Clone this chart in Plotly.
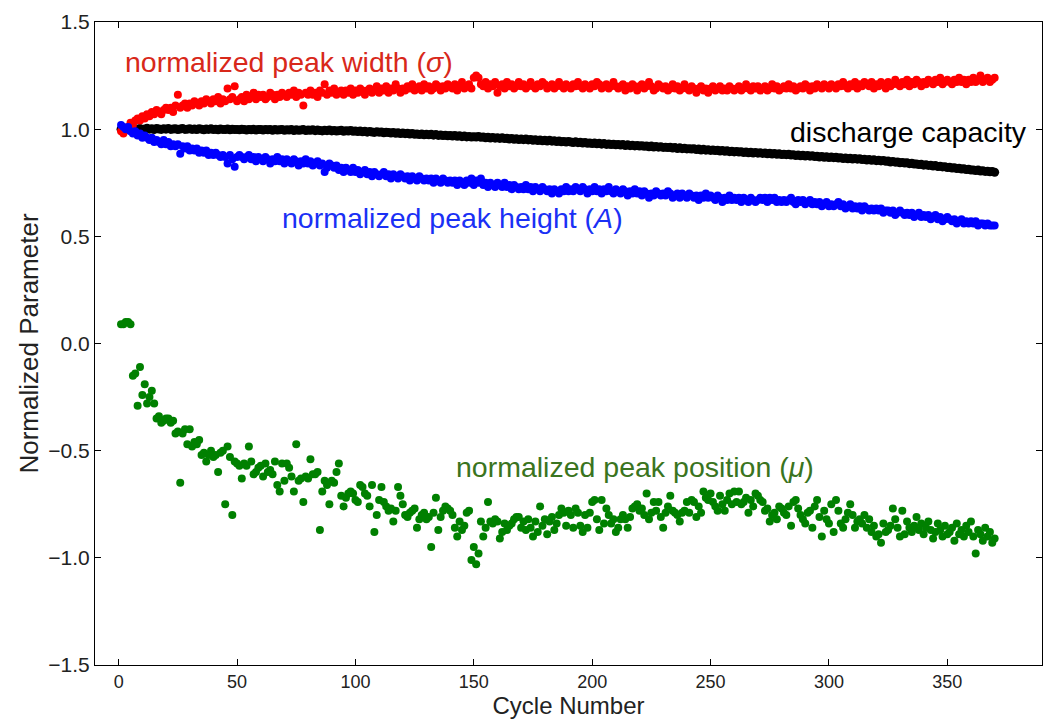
import plotly.graph_objects as go

cycles = list(range(1, 371))

peak_width = [
    0.99, 0.98, 1.00, 1.01, 1.03, 1.02, 1.04, 1.05, 1.04, 1.06,
    1.05, 1.07, 1.06, 1.08, 1.07, 1.09, 1.08, 1.07, 1.09, 1.10,
    1.09, 1.10, 1.08, 1.11, 1.16, 1.10, 1.11, 1.12, 1.10, 1.12,
    1.11, 1.13, 1.12, 1.11, 1.13, 1.12, 1.14, 1.13, 1.12, 1.14,
    1.13, 1.15, 1.12, 1.14, 1.13, 1.19, 1.14, 1.15, 1.20, 1.13,
    1.14, 1.15, 1.13, 1.16, 1.14, 1.15, 1.17, 1.14, 1.16, 1.15,
    1.16, 1.14, 1.15, 1.17, 1.16, 1.14, 1.16, 1.15, 1.17, 1.16,
    1.15, 1.17, 1.16, 1.18, 1.15, 1.17, 1.16, 1.11, 1.17, 1.16,
    1.18, 1.16, 1.17, 1.15, 1.18, 1.17, 1.21, 1.16, 1.18, 1.17,
    1.19, 1.16, 1.17, 1.18, 1.16, 1.18, 1.17, 1.19, 1.16, 1.18,
    1.17, 1.19, 1.18, 1.16, 1.18, 1.19, 1.17, 1.18, 1.20, 1.17,
    1.19, 1.18, 1.20, 1.17, 1.19, 1.18, 1.21, 1.19, 1.17, 1.19,
    1.18, 1.20, 1.19, 1.21, 1.18, 1.19, 1.20, 1.18, 1.21, 1.19,
    1.20, 1.18, 1.19, 1.21, 1.20, 1.18, 1.20, 1.19, 1.21, 1.20,
    1.19, 1.21, 1.18, 1.20, 1.22, 1.19, 1.20, 1.21, 1.19, 1.24,
    1.25, 1.24, 1.21, 1.20, 1.22, 1.19, 1.21, 1.20, 1.22, 1.17,
    1.20, 1.21, 1.19, 1.22, 1.20, 1.21, 1.19, 1.20, 1.22, 1.20,
    1.21, 1.19, 1.20, 1.22, 1.20, 1.19, 1.21, 1.20, 1.22, 1.21,
    1.19, 1.20, 1.21, 1.19, 1.20, 1.22, 1.20, 1.19, 1.21, 1.20,
    1.19, 1.21, 1.20, 1.22, 1.20, 1.19, 1.21, 1.20, 1.19, 1.21,
    1.20, 1.22, 1.21, 1.19, 1.20, 1.21, 1.19, 1.20, 1.22, 1.20,
    1.19, 1.20, 1.21, 1.18, 1.20, 1.19, 1.21, 1.20, 1.18, 1.20,
    1.21, 1.19, 1.20, 1.22, 1.20, 1.18, 1.19, 1.21, 1.20, 1.19,
    1.20, 1.18, 1.19, 1.21, 1.19, 1.20, 1.18, 1.19, 1.21, 1.19,
    1.18, 1.20, 1.19, 1.17, 1.19, 1.20, 1.18, 1.19, 1.17, 1.19,
    1.20, 1.18, 1.19, 1.20, 1.18, 1.19, 1.18, 1.20, 1.19, 1.18,
    1.19, 1.20, 1.18, 1.19, 1.21, 1.19, 1.18, 1.20, 1.19, 1.20,
    1.18, 1.19, 1.20, 1.18, 1.19, 1.21, 1.19, 1.20, 1.18, 1.19,
    1.20, 1.19, 1.21, 1.19, 1.20, 1.18, 1.19, 1.20, 1.19, 1.21,
    1.20, 1.18, 1.20, 1.19, 1.21, 1.20, 1.19, 1.21, 1.20, 1.19,
    1.21, 1.20, 1.19, 1.21, 1.20, 1.22, 1.20, 1.19, 1.21, 1.20,
    1.22, 1.19, 1.21, 1.20, 1.22, 1.21, 1.20, 1.22, 1.19, 1.21,
    1.20, 1.22, 1.21, 1.19, 1.22, 1.20, 1.21, 1.23, 1.21, 1.20,
    1.22, 1.21, 1.23, 1.20, 1.22, 1.21, 1.23, 1.22, 1.20, 1.22,
    1.21, 1.23, 1.22, 1.21, 1.23, 1.22, 1.24, 1.21, 1.22, 1.23,
    1.22, 1.21, 1.23, 1.22, 1.24, 1.22, 1.23, 1.21, 1.23, 1.22,
    1.24, 1.22, 1.23, 1.25, 1.22, 1.23, 1.24, 1.22, 1.23, 1.24,
]

peak_height = [
    1.02, 1.01, 1.00, 1.01, 0.99, 0.98, 0.99, 0.97, 0.98, 0.96,
    0.97, 0.96, 0.95, 0.96, 0.94, 0.95, 0.94, 0.93, 0.95, 0.93,
    0.94, 0.92, 0.93, 0.92, 0.93, 0.885, 0.92, 0.91, 0.92, 0.90,
    0.91, 0.90, 0.91, 0.89, 0.90, 0.89, 0.90, 0.88, 0.89, 0.88,
    0.89, 0.88, 0.87, 0.88, 0.87, 0.84, 0.88, 0.86, 0.825, 0.87,
    0.88, 0.87, 0.86, 0.87, 0.88, 0.86, 0.87, 0.85, 0.87, 0.86,
    0.85, 0.87, 0.86, 0.84, 0.86, 0.85, 0.87, 0.85, 0.86, 0.84,
    0.86, 0.85, 0.84, 0.86, 0.85, 0.83, 0.85, 0.84, 0.86, 0.84,
    0.85, 0.83, 0.84, 0.85, 0.83, 0.84, 0.80, 0.82, 0.84, 0.83,
    0.82, 0.83, 0.81, 0.82, 0.80, 0.82, 0.81, 0.80, 0.82, 0.80,
    0.81, 0.79, 0.80, 0.81, 0.79, 0.80, 0.78, 0.80, 0.79, 0.78,
    0.79, 0.80, 0.78, 0.79, 0.77, 0.79, 0.78, 0.77, 0.79, 0.78,
    0.77, 0.78, 0.76, 0.78, 0.77, 0.76, 0.78, 0.77, 0.76, 0.77,
    0.76, 0.77, 0.75, 0.77, 0.76, 0.75, 0.77, 0.76, 0.75, 0.76,
    0.75, 0.76, 0.74, 0.76, 0.75, 0.74, 0.76, 0.75, 0.77, 0.74,
    0.76, 0.75, 0.77, 0.74, 0.75, 0.73, 0.75, 0.74, 0.73, 0.75,
    0.74, 0.73, 0.75, 0.73, 0.74, 0.72, 0.74, 0.73, 0.72, 0.73,
    0.72, 0.74, 0.72, 0.73, 0.71, 0.73, 0.72, 0.71, 0.73, 0.72,
    0.71, 0.72, 0.70, 0.72, 0.71, 0.70, 0.72, 0.71, 0.73, 0.71,
    0.72, 0.71, 0.73, 0.72, 0.71, 0.73, 0.72, 0.70, 0.72, 0.71,
    0.73, 0.71, 0.72, 0.70, 0.72, 0.71, 0.73, 0.71, 0.70, 0.72,
    0.71, 0.70, 0.72, 0.71, 0.69, 0.71, 0.70, 0.72, 0.70, 0.71,
    0.69, 0.71, 0.70, 0.68, 0.70, 0.69, 0.71, 0.70, 0.69, 0.70,
    0.69, 0.71, 0.70, 0.68, 0.69, 0.70, 0.68, 0.70, 0.69, 0.68,
    0.70, 0.69, 0.68, 0.69, 0.67, 0.69, 0.68, 0.70, 0.68, 0.69,
    0.68, 0.67, 0.69, 0.68, 0.66, 0.68, 0.67, 0.69, 0.67, 0.68,
    0.67, 0.68, 0.66, 0.68, 0.67, 0.66, 0.68, 0.67, 0.66, 0.67,
    0.68, 0.67, 0.68, 0.66, 0.68, 0.67, 0.68, 0.66, 0.67, 0.66,
    0.67, 0.66, 0.67, 0.68, 0.66, 0.65, 0.67, 0.66, 0.67, 0.65,
    0.66, 0.67, 0.65, 0.66, 0.65, 0.66, 0.64, 0.65, 0.66, 0.64,
    0.65, 0.64, 0.65, 0.66, 0.64, 0.65, 0.63, 0.64, 0.65, 0.63,
    0.64, 0.63, 0.64, 0.62, 0.64, 0.63, 0.62, 0.63, 0.62, 0.63,
    0.62, 0.63, 0.61, 0.62, 0.62, 0.61, 0.62, 0.60, 0.61, 0.62,
    0.61, 0.60, 0.61, 0.60, 0.61, 0.59, 0.60, 0.61, 0.59, 0.60,
    0.59, 0.60, 0.58, 0.59, 0.60, 0.58, 0.59, 0.57, 0.58, 0.59,
    0.58, 0.57, 0.58, 0.56, 0.57, 0.58, 0.56, 0.57, 0.56, 0.57,
    0.56, 0.57, 0.55, 0.56, 0.56, 0.55, 0.56, 0.55, 0.55, 0.55,
]

discharge_capacity = [
    1.000, 1.002, 0.998, 1.001, 1.003, 0.999, 1.002, 1.000, 1.003, 0.999,
    1.001, 1.004, 1.000, 1.002, 0.998, 1.003, 1.001, 0.999, 1.002, 1.000,
    1.003, 0.999, 1.001, 1.002, 0.998, 1.001, 1.003, 0.999, 1.000, 1.002,
    0.999, 1.001, 0.998, 1.002, 1.000, 0.997, 1.001, 0.999, 1.002, 0.998,
    1.000, 0.997, 1.001, 0.999, 0.998, 1.001, 0.997, 1.000, 0.998, 0.999,
    0.997, 1.000, 0.998, 0.996, 0.999, 0.997, 1.000, 0.996, 0.998, 0.999,
    0.996, 0.998, 0.997, 0.999, 0.995, 0.998, 0.996, 0.997, 0.999, 0.995,
    0.997, 0.996, 0.998, 0.994, 0.997, 0.995, 0.996, 0.998, 0.994, 0.996,
    0.995, 0.997, 0.993, 0.996, 0.994, 0.992, 0.995, 0.993, 0.996, 0.992,
    0.994, 0.991, 0.993, 0.995, 0.990, 0.993, 0.991, 0.994, 0.990, 0.992,
    0.989, 0.991, 0.988, 0.990, 0.986, 0.989, 0.987, 0.985, 0.988, 0.986,
    0.987, 0.983, 0.986, 0.984, 0.982, 0.985, 0.981, 0.983, 0.980, 0.982,
    0.979, 0.981, 0.977, 0.980, 0.976, 0.978, 0.975, 0.977, 0.974, 0.976,
    0.974, 0.976, 0.972, 0.975, 0.971, 0.973, 0.970, 0.972, 0.969, 0.971,
    0.968, 0.971, 0.967, 0.969, 0.965, 0.968, 0.964, 0.966, 0.963, 0.965,
    0.963, 0.966, 0.962, 0.964, 0.960, 0.962, 0.959, 0.961, 0.958, 0.960,
    0.957, 0.960, 0.956, 0.958, 0.954, 0.957, 0.953, 0.955, 0.952, 0.954,
    0.951, 0.954, 0.950, 0.952, 0.948, 0.951, 0.947, 0.949, 0.946, 0.948,
    0.945, 0.948, 0.944, 0.946, 0.942, 0.945, 0.941, 0.943, 0.940, 0.942,
    0.940, 0.938, 0.941, 0.937, 0.939, 0.935, 0.938, 0.934, 0.936, 0.933,
    0.935, 0.932, 0.934, 0.930, 0.933, 0.929, 0.931, 0.928, 0.930, 0.927,
    0.929, 0.926, 0.928, 0.924, 0.927, 0.923, 0.925, 0.922, 0.924, 0.921,
    0.923, 0.920, 0.922, 0.918, 0.921, 0.917, 0.919, 0.916, 0.918, 0.915,
    0.916, 0.914, 0.916, 0.912, 0.914, 0.910, 0.913, 0.909, 0.911, 0.908,
    0.909, 0.907, 0.909, 0.905, 0.907, 0.903, 0.906, 0.902, 0.904, 0.901,
    0.903, 0.900, 0.902, 0.898, 0.900, 0.897, 0.899, 0.895, 0.897, 0.894,
    0.896, 0.893, 0.895, 0.891, 0.894, 0.890, 0.892, 0.889, 0.891, 0.888,
    0.890, 0.887, 0.889, 0.885, 0.888, 0.884, 0.886, 0.883, 0.885, 0.882,
    0.883, 0.881, 0.883, 0.879, 0.881, 0.877, 0.880, 0.876, 0.878, 0.875,
    0.877, 0.874, 0.876, 0.872, 0.874, 0.870, 0.873, 0.869, 0.871, 0.868,
    0.870, 0.867, 0.869, 0.865, 0.867, 0.863, 0.866, 0.862, 0.864, 0.861,
    0.863, 0.860, 0.862, 0.858, 0.860, 0.856, 0.858, 0.855, 0.857, 0.853,
    0.855, 0.852, 0.854, 0.850, 0.851, 0.847, 0.849, 0.846, 0.847, 0.843,
    0.845, 0.842, 0.843, 0.839, 0.841, 0.837, 0.838, 0.835, 0.836, 0.832,
    0.834, 0.831, 0.832, 0.828, 0.830, 0.826, 0.827, 0.824, 0.825, 0.821,
    0.822, 0.819, 0.820, 0.816, 0.818, 0.814, 0.815, 0.812, 0.813, 0.809,
    0.810, 0.807, 0.809, 0.805, 0.806, 0.803, 0.804, 0.801, 0.802, 0.799,
]

peak_position = [
    0.09, 0.09, 0.10, 0.10, 0.09, -0.15, -0.14, -0.29, -0.11, -0.24,
    -0.19, -0.28, -0.25, -0.22, -0.28, -0.35, -0.34, -0.37, -0.36, -0.35,
    -0.35, -0.37, -0.36, -0.42, -0.41, -0.65, -0.42, -0.40, -0.47, -0.40,
    -0.48, -0.46, -0.47, -0.45, -0.52, -0.51, -0.55, -0.52, -0.50, -0.53,
    -0.52, -0.60, -0.51, -0.50, -0.75, -0.48, -0.53, -0.80, -0.55, -0.56,
    -0.57, -0.63, -0.56, -0.57, -0.48, -0.55, -0.61, -0.60, -0.58, -0.57,
    -0.62, -0.56, -0.60, -0.59, -0.61, -0.55, -0.66, -0.69, -0.56, -0.64,
    -0.56, -0.58, -0.62, -0.69, -0.47, -0.64, -0.63, -0.74, -0.62, -0.63,
    -0.54, -0.61, -0.61, -0.60, -0.87, -0.69, -0.64, -0.66, -0.75, -0.64,
    -0.65, -0.60, -0.56, -0.71, -0.76, -0.72, -0.70, -0.69, -0.70, -0.73,
    -0.74, -0.66, -0.67, -0.70, -0.71, -0.76, -0.66, -0.88, -0.80, -0.73,
    -0.67, -0.74, -0.76, -0.78, -0.77, -0.83, -0.78, -0.67, -0.71, -0.75,
    -0.80, -0.81, -0.79, -0.78, -0.77, -0.86, -0.82, -0.80, -0.79, -0.82,
    -0.81, -0.95, -0.79, -0.72, -0.87, -0.81, -0.78, -0.76, -0.77, -0.78,
    -0.80, -0.86, -0.90, -0.83, -0.87, -0.85, -0.79, -0.78, -1.01, -0.95,
    -1.03, -0.98, -0.83, -0.90, -0.86, -0.74, -0.83, -0.84, -0.82, -0.83,
    -0.91, -0.88, -0.84, -0.87, -0.85, -0.84, -0.82, -0.81, -0.81, -0.86,
    -0.83, -0.87, -0.82, -0.86, -0.90, -0.83, -0.88, -0.76, -0.85, -0.82,
    -0.89, -0.83, -0.81, -0.87, -0.84, -0.80, -0.77, -0.79, -0.85, -0.78,
    -0.80, -0.86, -0.77, -0.79, -0.85, -0.88, -0.80, -0.86, -0.79, -0.74,
    -0.73, -0.82, -0.87, -0.73, -0.84, -0.77, -0.80, -0.84, -0.82, -0.88,
    -0.86, -0.82, -0.80, -0.82, -0.86, -0.81, -0.77, -0.76, -0.75, -0.78,
    -0.77, -0.80, -0.70, -0.82, -0.79, -0.74, -0.78, -0.74, -0.81, -0.86,
    -0.79, -0.76, -0.71, -0.78, -0.79, -0.80, -0.83, -0.79, -0.78, -0.74,
    -0.79, -0.73, -0.74, -0.81, -0.76, -0.79, -0.69, -0.72, -0.73, -0.70,
    -0.74, -0.76, -0.78, -0.71, -0.75, -0.78, -0.73, -0.70, -0.75, -0.69,
    -0.74, -0.69, -0.75, -0.74, -0.72, -0.79, -0.73, -0.76, -0.70, -0.71,
    -0.73, -0.74, -0.78, -0.77, -0.83, -0.80, -0.79, -0.82, -0.76, -0.77,
    -0.79, -0.80, -0.76, -0.85, -0.74, -0.73, -0.77, -0.80, -0.82, -0.84,
    -0.79, -0.78, -0.86, -0.76, -0.73, -0.81, -0.90, -0.78, -0.82, -0.84,
    -0.75, -0.88, -0.73, -0.78, -0.84, -0.86, -0.82, -0.79, -0.75, -0.80,
    -0.86, -0.83, -0.82, -0.84, -0.80, -0.86, -0.82, -0.88, -0.85, -0.90,
    -0.89, -0.93, -0.84, -0.88, -0.87, -0.85, -0.77, -0.82, -0.86, -0.90,
    -0.78, -0.89, -0.83, -0.86, -0.88, -0.85, -0.81, -0.87, -0.84, -0.89,
    -0.86, -0.83, -0.87, -0.91, -0.88, -0.84, -0.87, -0.90, -0.85, -0.89,
    -0.88, -0.86, -0.92, -0.84, -0.89, -0.87, -0.90, -0.85, -0.88, -0.83,
    -0.90, -0.98, -0.87, -0.89, -0.92, -0.86, -0.90, -0.88, -0.93, -0.91,
]

x_ticks = [0, 50, 100, 150, 200, 250, 300, 350]
y_ticks = [-1.5, -1.0, -0.5, 0.0, 0.5, 1.0, 1.5]
y_tick_labels = ["\u22121.5", "\u22121.0", "\u22120.5", "0.0", "0.5", "1.0", "1.5"]

labels = [
    ("normalized peak width (<i>\u03c3</i>)", 72.0, 1.314, "#d8281a"),
    ("discharge capacity", 333.5, 0.986, "#000000"),
    ("normalized peak height (<i>A</i>)", 141.0, 0.585, "#1a30f5"),
    ("normalized peak position (<i>\u03bc</i>)", 218.0, -0.578, "#3a7420"),
]

FONT = "Liberation Sans, Arial, sans-serif"

fig = go.Figure()
series = [
    (discharge_capacity, "#000000", 9),
    (peak_width, "#ff0000", 8),
    (peak_height, "#0000ff", 8),
    (peak_position, "#008000", 8),
]
for vals, col, sz in series:
    fig.add_trace(go.Scatter(
        x=cycles, y=vals, mode="markers",
        marker=dict(size=sz, color=col, line=dict(width=0)),
        hoverinfo="skip",
    ))

for text, lx, ly, col in labels:
    fig.add_annotation(
        x=lx, y=ly, xref="x", yref="y", text=text, showarrow=False,
        xanchor="center", yanchor="middle",
        font=dict(family=FONT, size=28.5, color=col),
    )

axis_common = dict(
    showgrid=False, zeroline=False, showline=True, linecolor="#000000",
    linewidth=1, mirror="allticks", ticks="inside", ticklen=6,
    tickcolor="#000000",
)

fig.update_xaxes(
    range=[-10, 390], tickvals=x_ticks,
    tickfont=dict(family=FONT, size=18, color="#222222"),
    title=dict(text="Cycle Number", font=dict(family=FONT, size=24, color="#222222"), standoff=2),
    **axis_common,
)
fig.update_yaxes(
    range=[-1.5, 1.5], tickvals=y_ticks, ticktext=y_tick_labels,
    tickfont=dict(family=FONT, size=21, color="#222222"),
    title=dict(text="Normalized Parameter", font=dict(family=FONT, size=26, color="#222222"), standoff=2),
    **axis_common,
)

fig.update_layout(
    width=1053, height=720,
    margin=dict(l=95, r=10, t=17, b=53),
    paper_bgcolor="#ffffff", plot_bgcolor="#ffffff",
    showlegend=False,
)

fig.write_html("out.html")
